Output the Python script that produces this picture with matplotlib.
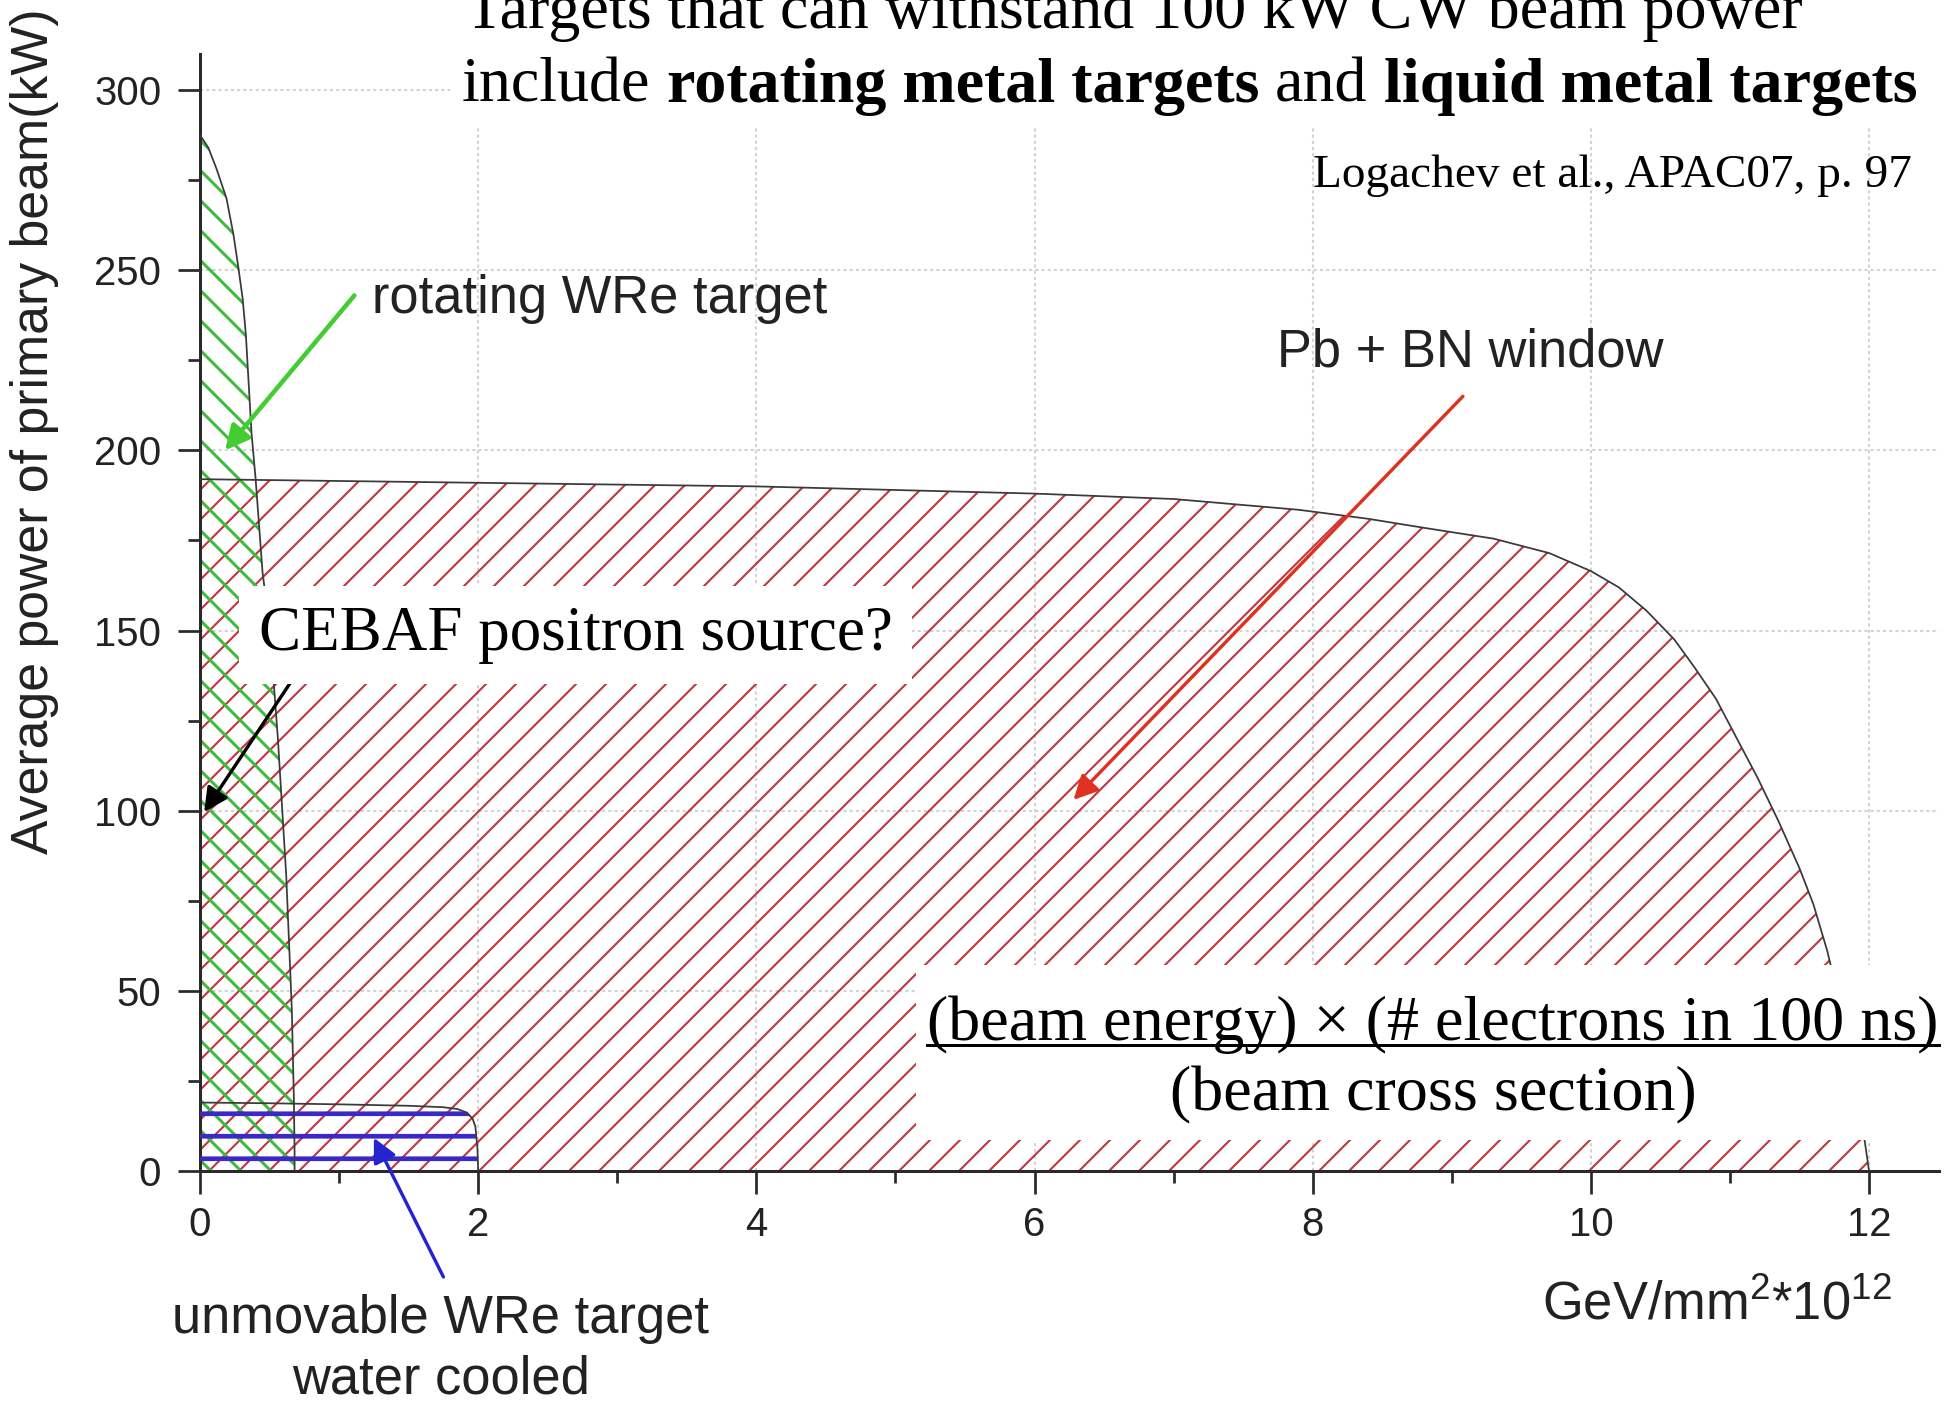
import numpy as np
import matplotlib.pyplot as plt
from matplotlib.ticker import AutoMinorLocator
from matplotlib.patches import Rectangle

plt.rcParams['font.family'] = ['Liberation Sans', 'DejaVu Sans']
plt.rcParams['mathtext.fontset'] = 'custom'
plt.rcParams['mathtext.rm'] = 'Liberation Sans'
plt.rcParams['mathtext.it'] = 'Liberation Sans:italic'
plt.rcParams['mathtext.bf'] = 'Liberation Sans:bold'

# Pb + BN window
pb_x = [0, 1, 2, 3, 4, 5, 6, 7, 7.9, 8.4, 8.8, 9.3, 9.7, 10.0, 10.2, 10.4, 10.6,
        10.75, 10.9, 11.05, 11.2, 11.35, 11.5, 11.6, 11.7, 11.78, 11.85, 11.92,
        11.97, 12.0]
pb_y = [192, 191.5, 191, 190.5, 190, 189, 188, 186.5, 183.5, 181, 178.5, 175.5,
        171.5, 166.5, 162, 155.5, 147.5, 139.5, 131, 120, 109, 97, 84, 74, 61,
        48, 35, 20, 8, 0]

# rotating WRe target
rot_x = [0, 0.06, 0.12, 0.19, 0.24, 0.275, 0.307, 0.33, 0.37, 0.40, 0.45, 0.50,
         0.56, 0.62, 0.66, 0.675, 0.68, 0.68]
rot_y = [287.5, 284, 278, 270, 260, 251, 242, 232, 205, 192, 166, 151, 120, 82,
         45, 20, 5, 0]

# unmovable WRe target, water cooled
fix_x = [0, 0.5, 1.0, 1.5, 1.75, 1.85, 1.92, 1.96, 1.98, 1.995, 2.0]
fix_y = [19, 18.8, 18.5, 18.1, 17.7, 17.2, 16.2, 14.5, 12.3, 6, 0]

x_ticks = [0, 2, 4, 6, 8, 10, 12]
y_ticks = [0, 50, 100, 150, 200, 250, 300]

W, H, DPI = 1958, 1401, 270
fig = plt.figure(figsize=(W / DPI, H / DPI), dpi=DPI)
ax = fig.add_axes([200 / W, 1 - 1171 / H, 1738.6 / W, (1171 - 54) / H])

# hatched regions
regions = [
    (pb_x, pb_y, '#c03844', '///', 0.57, 1),
    (rot_x, rot_y, '#3dbb3d', '\\\\\\', 0.8, 2),
    (fix_x, fix_y, '#3a28c8', '--', 1.25, 3),
]
for xs, ys, col, hatch, hlw, z in regions:
    with plt.rc_context({'hatch.linewidth': hlw}):
        poly, = ax.fill(list(xs) + [0], list(ys) + [0], facecolor='none',
                        edgecolor=col, hatch=hatch, linewidth=0, zorder=z)
    if hasattr(poly, 'set_hatch_linewidth'):
        poly.set_hatch_linewidth(hlw)
    ax.plot(xs, ys, color='#3a3a3a', lw=0.47, zorder=4)
plt.rcParams['hatch.linewidth'] = 0.8

ax.set_xlim(0, 12.5)
ax.set_ylim(0, 310)
ax.set_xticks(x_ticks)
ax.set_yticks(y_ticks)
ax.xaxis.set_minor_locator(AutoMinorLocator(2))
ax.yaxis.set_minor_locator(AutoMinorLocator(2))
ax.grid(True, which='major', color='#d2d2d2', linestyle=(0, (1.5, 1.5)), linewidth=0.55)
ax.set_axisbelow(True)
for s in ['top', 'right']:
    ax.spines[s].set_visible(False)
for s in ['left', 'bottom']:
    ax.spines[s].set_linewidth(0.8)
    ax.spines[s].set_color('#2a2a2a')
ax.tick_params(which='major', direction='out', length=6, width=0.73, color='#2a2a2a',
               labelsize=10.7, labelcolor='#222222')
ax.tick_params(which='minor', direction='out', length=3.3, width=0.73, color='#2a2a2a')
ax.tick_params(axis='y', which='major', pad=4.3)
ax.tick_params(axis='x', which='major', pad=3.3)

ax.set_ylabel('Average power of primary beam(kW)', fontsize=13.8, color='#222222', va='center')
ax.yaxis.set_label_coords(-0.095, 0.662)
ax.text(1892 / W, 1 - 1320 / H, r'GeV/mm$^{2}$*10$^{12}$', transform=fig.transFigure,
        fontsize=14, color='#222222', ha='right', va='baseline')

# arrows and labels
akw = dict(arrowstyle='-|>', mutation_scale=13.5, shrinkA=0, shrinkB=0)
ax.annotate('', xy=(0.18, 200), xytext=(1.11, 243),
            arrowprops=dict(color='#44cc33', lw=1.2, **akw), zorder=6)
ax.text(1.235, 238, 'rotating WRe target', fontsize=14, color='#222222', va='baseline', zorder=6)

ax.annotate('', xy=(6.28, 103), xytext=(9.08, 215),
            arrowprops=dict(color='#e0301e', lw=0.9, **akw), zorder=6)
ax.text(7.74, 223.3, 'Pb + BN window', fontsize=14, color='#222222', va='baseline', zorder=6)

ax.annotate('', xy=(1.25, 9.2), xytext=(1.75, -29.4), annotation_clip=False,
            arrowprops=dict(color='#2424d0', lw=0.9, **akw), zorder=6)
ax.text(441 / W, 1 - 1333 / H, 'unmovable WRe target', transform=fig.transFigure,
        fontsize=14, color='#222222', ha='center', va='baseline')
ax.text(441 / W, 1 - 1393 / H, 'water cooled', transform=fig.transFigure,
        fontsize=14, color='#222222', ha='center', va='baseline')

ax.annotate('', xy=(0.03, 99.6), xytext=(0.71, 139),
            arrowprops=dict(color='black', lw=0.9, **akw), zorder=6)
ax.text(0.424, 144.6, 'CEBAF positron source?', family='Liberation Serif', fontsize=16.8,
        va='baseline', zorder=7,
        bbox=dict(boxstyle='square,pad=0.31', facecolor='white', edgecolor='none'))

# white panels
ax.add_patch(Rectangle((450 / W, 1 - 128 / H), 1 - 450 / W, 128 / H, transform=fig.transFigure,
                       facecolor='white', edgecolor='none', clip_on=False, zorder=5))
ax.add_patch(Rectangle((916 / W, 1 - 1140 / H), 1024 / W, 175 / H, transform=fig.transFigure,
                       facecolor='white', edgecolor='none', clip_on=False, zorder=5))

serif = dict(family='Liberation Serif', color='black', transform=fig.transFigure, zorder=7)

# title, with bold parts
ax.text(465 / W, 1 - 28 / H, 'Targets that can withstand 100 kW CW beam power',
        fontsize=17.07, va='baseline', **serif)
parts = [('include', 'normal'), ('rotating metal targets', 'bold'),
         ('and', 'normal'), ('liquid metal targets', 'bold')]
t = ax.text(462 / W, 1 - 102 / H, parts[0][0], fontsize=17.07, va='baseline', **serif)
for s, w in parts[1:]:
    t = ax.annotate(s, xy=(1, 0), xycoords=t, xytext=(4.27, 0), textcoords='offset points',
                    va='bottom', family='Liberation Serif', fontsize=17.07, fontweight=w,
                    color='black', zorder=7)

ax.text(1912 / W, 1 - 187 / H, 'Logachev et al., APAC07, p. 97', fontsize=12.6,
        ha='right', va='baseline', **serif)

# power density formula
num = ax.text(1433 / W, 1 - 1040 / H, '(beam energy) × (# electrons in 100 ns)',
              fontsize=17.07, ha='center', va='baseline', **serif)
ax.text(1433 / W, 1 - 1110 / H, '(beam cross section)',
        fontsize=17.07, ha='center', va='baseline', **serif)
fig.canvas.draw()
bb = num.get_window_extent()
x0, x1 = bb.x0 / W, bb.x1 / W
uy = 1 - 1045 / H
ax.plot([x0, x1], [uy, uy], transform=fig.transFigure, color='black', lw=0.8,
        clip_on=False, zorder=7)

fig.savefig('out.png', dpi=DPI)
